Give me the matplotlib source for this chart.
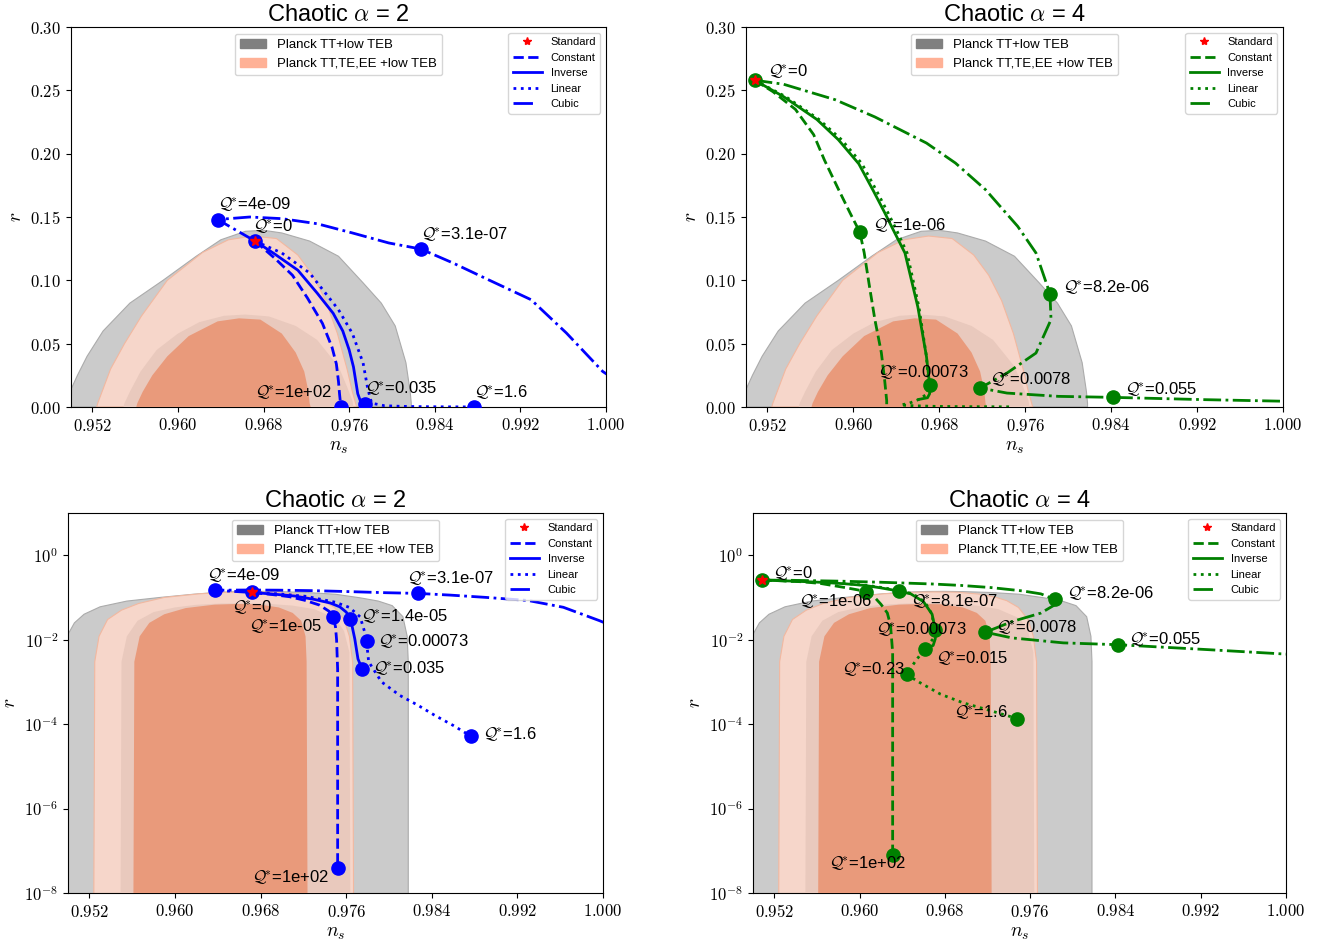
import matplotlib
matplotlib.use('Agg')
import matplotlib.pyplot as plt
from matplotlib.patches import Patch
from matplotlib.lines import Line2D
from matplotlib.ticker import NullLocator

plt.rcParams['font.family'] = ['Liberation Sans', 'DejaVu Sans']
plt.rcParams['mathtext.fontset'] = 'cm'

## Planck contours, outline (ns, r): left edge bottom->top, then right edge top->bottom
tt95_ns = [0.9494, 0.9495, 0.9499, 0.9506, 0.9515, 0.9530, 0.9555, 0.9586, 0.9617, 0.9640, 0.9663, 0.9680,
           0.9697, 0.9723, 0.9750, 0.9773, 0.9790, 0.9803, 0.9813, 0.9817, 0.9818, 0.9818]
tt95_r = [1e-9, 0.003, 0.012, 0.025, 0.040, 0.060, 0.082, 0.100, 0.119, 0.132, 0.1387, 0.1395,
          0.1374, 0.131, 0.119, 0.098, 0.082, 0.064, 0.035, 0.012, 0.003, 1e-9]
te95_ns = [0.9524, 0.9525, 0.9529, 0.9537, 0.9550, 0.9566, 0.9590, 0.9623, 0.9647, 0.9670,
           0.9692, 0.9712, 0.9726, 0.9738, 0.9749, 0.9758, 0.9763, 0.9766, 0.9767]
te95_r = [1e-9, 0.003, 0.012, 0.030, 0.050, 0.072, 0.100, 0.122, 0.132, 0.135,
          0.133, 0.120, 0.104, 0.084, 0.058, 0.030, 0.012, 0.003, 1e-9]
tt68_ns = [0.9549, 0.9550, 0.9555, 0.9565, 0.9580, 0.9600, 0.9620, 0.9643, 0.9663,
           0.9685, 0.9710, 0.9730, 0.9750, 0.9758, 0.9763, 0.9764]
tt68_r = [1e-9, 0.003, 0.012, 0.028, 0.045, 0.058, 0.067, 0.072, 0.073,
          0.0715, 0.064, 0.053, 0.032, 0.016, 0.005, 1e-9]
te68_ns = [0.9561, 0.9562, 0.9567, 0.9576, 0.9590, 0.9610, 0.9637, 0.9657,
           0.9677, 0.9697, 0.9710, 0.9718, 0.9722, 0.9723, 0.9724]
te68_r = [1e-9, 0.003, 0.012, 0.025, 0.040, 0.056, 0.0676, 0.070,
          0.069, 0.058, 0.043, 0.028, 0.012, 0.003, 1e-9]

## Chaotic alpha = 2 trajectories
a2_const_ns = [0.9672, 0.9691, 0.9707, 0.9721, 0.9735, 0.9744, 0.9748, 0.9750, 0.9751, 0.9752, 0.9752]
a2_const_r = [0.131, 0.117, 0.104, 0.086, 0.066, 0.047, 0.034, 0.020, 0.010, 0.002, 4e-8]
a2_inv_ns = [0.9672, 0.9690, 0.9712, 0.9730, 0.9745, 0.9754, 0.9760, 0.9764, 0.9768, 0.9771, 0.9775]
a2_inv_r = [0.131, 0.121, 0.108, 0.090, 0.074, 0.060, 0.045, 0.0316, 0.0105, 0.0035, 0.0020]
a2_lin_ns = [0.9672, 0.9697, 0.9723, 0.9750, 0.9763, 0.9773, 0.9777, 0.9779, 0.9781, 0.9793,
             0.9810, 0.9827, 0.9843, 0.9860, 0.9877]
a2_lin_r = [0.131, 0.1216, 0.1058, 0.0768, 0.058, 0.0347, 0.016, 0.0091, 0.0030, 1.0e-3,
            4.8e-4, 2.8e-4, 1.6e-4, 9.3e-5, 5.1e-5]
a2_cub_ns = [0.9672, 0.9637, 0.9667, 0.9697, 0.9730, 0.9763, 0.9797, 0.9827, 0.9857, 0.9890,
             0.9930, 0.9963, 0.9997, 1.0015]
a2_cub_r = [0.131, 0.148, 0.150, 0.1487, 0.1447, 0.1374, 0.1295, 0.1247, 0.1137, 0.1005,
            0.0847, 0.0584, 0.028, 0.018]

## Chaotic alpha = 4 trajectories
a4_const_ns = [0.9508, 0.9525, 0.9546, 0.9563, 0.9573, 0.9586, 0.9597, 0.9606, 0.9610, 0.9615,
               0.9620, 0.9626, 0.9629, 0.9631, 0.9631]
a4_const_r = [0.258, 0.249, 0.235, 0.215, 0.195, 0.172, 0.153, 0.138, 0.122, 0.095,
              0.069, 0.043, 0.022, 0.005, 7.9e-8]
a4_inv_ns = [0.9508, 0.9535, 0.9566, 0.9586, 0.9605, 0.9619, 0.9630, 0.9637, 0.9648, 0.9660,
             0.9668, 0.9671, 0.9671, 0.9669, 0.9661]
a4_inv_r = [0.258, 0.245, 0.227, 0.211, 0.192, 0.170, 0.152, 0.140, 0.1216, 0.079,
            0.040, 0.0174, 0.0105, 0.0073, 0.0060]
a4_lin_ns = [0.9508, 0.9537, 0.9568, 0.9589, 0.9608, 0.9622, 0.9633, 0.9640, 0.9650, 0.9661,
             0.9668, 0.9670, 0.9669, 0.9661, 0.9652, 0.9644, 0.9656, 0.9676, 0.9697, 0.9717,
             0.9738, 0.9748]
a4_lin_r = [0.258, 0.245, 0.227, 0.211, 0.192, 0.170, 0.152, 0.140, 0.1216, 0.079,
            0.040, 0.0174, 0.0105, 0.0060, 0.0030, 0.0015, 9.8e-4, 5.1e-4, 3.2e-4, 2.3e-4,
            1.6e-4, 1.35e-4]
a4_cub_ns = [0.9508, 0.9535, 0.9583, 0.9620, 0.9668, 0.9695, 0.9723, 0.9753, 0.9770, 0.9783,
             0.9784, 0.9770, 0.9743, 0.9718, 0.9743, 0.9791, 0.9842, 0.9927, 1.0010]
a4_cub_r = [0.258, 0.2548, 0.2426, 0.229, 0.2084, 0.1926, 0.1716, 0.1426, 0.1216, 0.0895,
            0.069, 0.0426, 0.0268, 0.015, 0.011, 0.0084, 0.0076, 0.0058, 0.0044]

models = ['Constant', 'Inverse', 'Linear', 'Cubic']
styles = {'Constant': '--', 'Inverse': '-', 'Linear': ':', 'Cubic': '-.'}
a2_curves = {'Constant': (a2_const_ns, a2_const_r), 'Inverse': (a2_inv_ns, a2_inv_r),
             'Linear': (a2_lin_ns, a2_lin_r), 'Cubic': (a2_cub_ns, a2_cub_r)}
a4_curves = {'Constant': (a4_const_ns, a4_const_r), 'Inverse': (a4_inv_ns, a4_inv_r),
             'Linear': (a4_lin_ns, a4_lin_r), 'Cubic': (a4_cub_ns, a4_cub_r)}

# labelled points: (model, index, Q* text) + text offset in pixels and alignment
marks_tl = [('Cubic', 1, '4e-09', 0, 6, 'left', 'bottom'),
            ('Constant', 0, '0', -2, 5, 'left', 'bottom'),
            ('Cubic', 7, '3.1e-07', 0, 5, 'left', 'bottom'),
            ('Constant', -1, '1e+02', -9, 5, 'right', 'bottom'),
            ('Inverse', -1, '0.035', 0, 6, 'left', 'bottom'),
            ('Linear', -1, '1.6', 0, 5, 'left', 'bottom')]
marks_tr = [('Constant', 0, '0', 13, -1, 'left', 'bottom'),
            ('Constant', 7, '1e-06', 13, -3, 'left', 'bottom'),
            ('Cubic', 9, '8.2e-06', 13, -3, 'left', 'bottom'),
            ('Inverse', 11, '0.00073', -52, 3, 'left', 'bottom'),
            ('Cubic', 13, '0.0078', 10, -1, 'left', 'bottom'),
            ('Cubic', 16, '0.055', 12, -2, 'left', 'bottom')]
marks_bl = [('Cubic', 1, '4e-09', -8, 5, 'left', 'bottom'),
            ('Constant', 0, '0', 0, -6, 'center', 'top'),
            ('Cubic', 7, '3.1e-07', -11, 5, 'left', 'bottom'),
            ('Constant', 6, '1e-05', -11, 0, 'right', 'top'),
            ('Inverse', 7, '1.4e-05', 11, 2, 'left', 'center'),
            ('Linear', 7, '0.00073', 11, 0, 'left', 'center'),
            ('Inverse', -1, '0.035', 11, 1, 'left', 'center'),
            ('Linear', -1, '1.6', 12, 2, 'left', 'center'),
            ('Constant', -1, '1e+02', -9, -1, 'right', 'top')]
marks_br = [('Constant', 0, '0', 11, 6, 'left', 'center'),
            ('Constant', 7, '1e-06', 6, -1, 'right', 'top'),
            ('Inverse', 7, '8.1e-07', 12, -1, 'left', 'top'),
            ('Cubic', 9, '8.2e-06', 12, 6, 'left', 'center'),
            ('Inverse', 11, '0.00073', -14, 0, 'center', 'center'),
            ('Cubic', 13, '0.0078', 11, 5, 'left', 'center'),
            ('Cubic', 16, '0.055', 11, 5, 'left', 'center'),
            ('Inverse', -1, '0.015', 11, 0, 'left', 'top'),
            ('Linear', 15, '0.23', -2, 5, 'right', 'center'),
            ('Linear', -1, '1.6', -10, 6, 'right', 'center'),
            ('Constant', -1, '1e+02', 13, 1, 'right', 'top')]

ns_ticks = [0.952, 0.960, 0.968, 0.976, 0.984, 0.992, 1.000]
r_ticks = [0.00, 0.05, 0.10, 0.15, 0.20, 0.25, 0.30]
log_ticks = [1e-8, 1e-6, 1e-4, 1e-2, 1e0]
log_labels = ['$10^{-8}$', '$10^{-6}$', '$10^{-4}$', '$10^{-2}$', '$10^{0}$']


def draw_panel(ax, curves, marks, color, alpha, log):
    # Planck regions
    ax.fill(tt95_ns, tt95_r, fc='#cbcbcb', ec='#ababab', lw=0.8, zorder=1)
    ax.fill(te95_ns, te95_r, fc='#f6d6ca', ec='#f2b8a0', lw=0.8, zorder=2)
    ax.fill(tt68_ns, tt68_r, fc='#e9c9bd', lw=0, zorder=3)
    ax.fill(te68_ns, te68_r, fc='#e99a7b', lw=0, zorder=4)

    for m in models:
        x, y = curves[m]
        ax.plot(x, y, ls=styles[m], color=color, lw=2, zorder=5)

    for m, i, txt, dx, dy, ha, va in marks:
        x, y = curves[m][0][i], curves[m][1][i]
        ax.plot(x, y, 'o', color=color, ms=9.5, zorder=6)
        ax.annotate(r'$\mathcal{Q}^{\!\!*}\!$=' + txt, (x, y), xytext=(dx, dy),
                    textcoords='offset pixels', ha=ha, va=va, fontsize=12, zorder=8)

    sx, sy = curves['Constant'][0][0], curves['Constant'][1][0]
    ax.plot(sx, sy, '*', color='red', ms=7.5, zorder=7)

    ax.set_xlim(0.950, 1.000)
    ax.set_xticks(ns_ticks)
    ax.set_xticklabels(['$%.3f$' % v for v in ns_ticks], fontsize=12)
    if log:
        ax.set_yscale('log')
        ax.set_ylim(1e-8, 10)
        ax.set_yticks(log_ticks)
        ax.set_yticklabels(log_labels, fontsize=12)
        ax.yaxis.set_minor_locator(NullLocator())
    else:
        ax.set_ylim(0, 0.30)
        ax.set_yticks(r_ticks)
        ax.set_yticklabels(['$%.2f$' % v for v in r_ticks], fontsize=12)
    ax.set_xlabel('$n_s$', fontsize=14)
    ax.set_ylabel('$r$', fontsize=14)
    ax.set_title(r'Chaotic $\alpha$ = %d' % alpha, fontsize=17, pad=4)

    # legends
    planck = ax.legend([Patch(color='grey'), Patch(color='#ffb196')],
                       ['Planck TT+low TEB', 'Planck TT,TE,EE +low TEB'],
                       loc='upper center', fontsize=9.5)
    ax.add_artist(planck)
    handles = [Line2D([], [], marker='*', color='red', ls='none', ms=6)]
    handles += [Line2D([], [], ls=styles[m], color=color, lw=2) for m in models[:3]]
    handles += [Line2D([], [], ls=(0, (7, 6)), color=color, lw=2)]
    ax.legend(handles, ['Standard'] + models, loc='upper right', fontsize=8, handlelength=2.6)


W, H = 1338, 952
fig = plt.figure(figsize=(W / 100, H / 100), dpi=100)

def add_ax(left, right, top, bottom):
    return fig.add_axes([left / W, 1 - bottom / H, (right - left) / W, (bottom - top) / H])

ax_tl = add_ax(71, 606, 27, 407)
ax_tr = add_ax(746, 1283, 27, 407)
ax_bl = add_ax(68, 603, 513, 893)
ax_br = add_ax(753, 1286, 513, 893)

draw_panel(ax_tl, a2_curves, marks_tl, 'blue', 2, False)
draw_panel(ax_tr, a4_curves, marks_tr, 'green', 4, False)
draw_panel(ax_bl, a2_curves, marks_bl, 'blue', 2, True)
draw_panel(ax_br, a4_curves, marks_br, 'green', 4, True)

fig.savefig('out.png', dpi=100)
